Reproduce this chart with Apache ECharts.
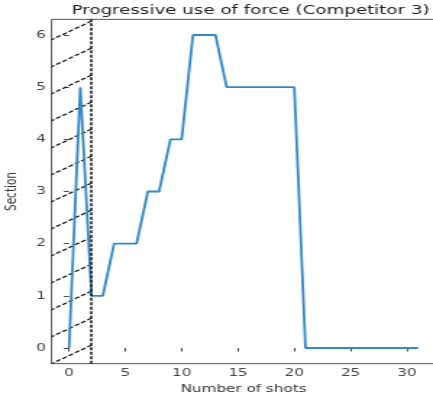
<!DOCTYPE html>
<html>
<head>
<meta charset="utf-8">
<script src="https://cdn.jsdelivr.net/npm/echarts@6/dist/echarts.min.js"></script>
<style>
html,body{margin:0;padding:0;background:#fff;overflow:hidden;}
#wrap{width:433px;height:394px;overflow:hidden;}
#chart{width:299px;height:394px;transform:scaleX(1.4482);transform-origin:0 0;}
</style>
</head>
<body>
<div id="wrap"><div id="chart"></div></div>
<script>
const titleText = 'Progressive use of force (Competitor 3)';
const xName = 'Number of shots';
const yName = 'Section';
const shots   = [0,1,2,3,4,5,6,7,8,9,10,11,12,13,14,15,16,17,18,19,20,21,22,23,24,25,26,27,28,29,30,31];
const section = [0,5,1,1,2,2,2,3,3,4,4,6,6,6,5,5,5,5,5,5,5,0,0,0,0,0,0,0,0,0,0,0];
const xTicks = [0,5,10,15,20,25,30];
const yTicks = [0,1,2,3,4,5,6];
const spanStart = -1.55, spanEnd = 2;
const xMin = -1.55, xMax = 32.55, yMin = -0.3, yMax = 6.3;

function hatch(){
  const c = document.createElement('canvas');
  c.width = 80; c.height = 54;
  const g = c.getContext('2d');
  g.strokeStyle = '#111'; g.lineWidth = 1.2;
  g.setLineDash([3.6,1.6]);
  for (let k = -2; k <= 3; k++) {
    const y0 = 9.76 + 27*k;
    g.beginPath(); g.moveTo(0, y0); g.lineTo(80, y0 - 54); g.stroke();
  }
  return c;
}

const chart = echarts.init(document.getElementById('chart'), null, {renderer:'canvas'});
const font = 'DejaVu Sans';
chart.setOption({
  animation:false,
  backgroundColor:'#fff',
  title:{text:titleText,left:168,top:-1,textAlign:'center',
    textStyle:{fontFamily:font,fontSize:12.6,fontWeight:'normal',color:'#222'}},
  grid:{left:35.6,right:-1.8,top:19.35,bottom:30.35,show:true,borderColor:'#555',borderWidth:1,
    backgroundColor:'transparent',containLabel:false,outerBoundsMode:'none'},
  xAxis:{type:'value',min:xMin,max:xMax,
    name:xName,nameLocation:'middle',nameGap:14,
    nameTextStyle:{fontFamily:font,fontSize:10.5,color:'#333',verticalAlign:'top'},
    axisLine:{show:false},
    axisTick:{show:true,length:3.5,customValues:xTicks,lineStyle:{color:'#444'}},
    axisLabel:{customValues:xTicks,fontFamily:font,fontSize:10.5,color:'#444',margin:4},
    splitLine:{show:false}},
  yAxis:{type:'value',min:yMin,max:yMax,
    name:yName,nameLocation:'middle',nameGap:18,nameRotate:90,
    nameTextStyle:{fontFamily:font,fontSize:10.5,color:'#333'},
    axisLine:{show:false},
    axisTick:{show:true,length:3.5,customValues:yTicks,lineStyle:{color:'#444'}},
    axisLabel:{customValues:yTicks,fontFamily:font,fontSize:10.5,color:'#444',margin:4},
    splitLine:{show:false}},
  series:[{
    type:'line',
    data:shots.map((x,i)=>[x,section[i]]),
    showSymbol:false,
    lineStyle:{color:'#3388c6',width:1.8},
    z:3,
    markArea:{silent:true,itemStyle:{color:{image:hatch(),repeat:'repeat'}},
      data:[[{xAxis:spanStart},{xAxis:spanEnd}]]},
    markLine:{silent:true,symbol:'none',label:{show:false},
      lineStyle:{color:'#111',type:[3,1.5],width:1.5},
      data:[{xAxis:spanEnd}]}
  }]
});
</script>
</body>
</html>
